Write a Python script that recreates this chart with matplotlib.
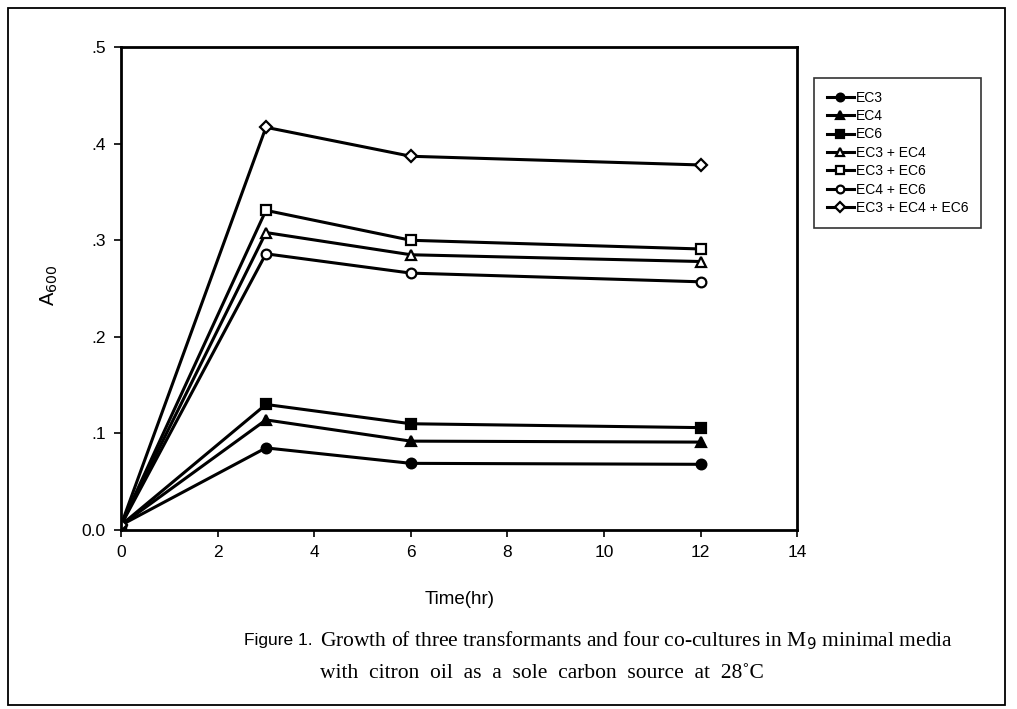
import matplotlib

matplotlib.use("Agg")
import matplotlib.pyplot as plt
from matplotlib.patches import Rectangle
from matplotlib.ticker import FixedLocator, FixedFormatter

plt.rcParams["font.family"] = ["Liberation Sans", "DejaVu Sans"]

# ── data ──
time_hr = [0, 3, 6, 12]
ec3 = [0.005, 0.085, 0.069, 0.068]
ec4 = [0.005, 0.114, 0.092, 0.091]
ec6 = [0.005, 0.130, 0.110, 0.106]
ec3_ec4 = [0.005, 0.308, 0.285, 0.278]
ec3_ec6 = [0.005, 0.331, 0.300, 0.291]
ec4_ec6 = [0.005, 0.286, 0.266, 0.257]
ec3_ec4_ec6 = [0.005, 0.417, 0.387, 0.378]

labels = ["EC3", "EC4", "EC6", "EC3 + EC4", "EC3 + EC6", "EC4 + EC6", "EC3 + EC4 + EC6"]
y_ticks = [0.0, 0.1, 0.2, 0.3, 0.4, 0.5]
y_tick_labels = ["0.0", ".1", ".2", ".3", ".4", ".5"]
x_ticks = [0, 2, 4, 6, 8, 10, 12, 14]

series = [
    (ec3, "o", "black"),
    (ec4, "^", "black"),
    (ec6, "s", "black"),
    (ec3_ec4, "^", "white"),
    (ec3_ec6, "s", "white"),
    (ec4_ec6, "o", "white"),
    (ec3_ec4_ec6, "D", "white"),
]

fig = plt.figure(figsize=(10.17, 7.09), dpi=100)
ax = fig.add_axes([0.119, 0.2525, 0.665, 0.681])

for (vals, mk, face), lab in zip(series, labels):
    ms = 6 if mk == "D" else 7
    ax.plot(time_hr, vals, color="black", linewidth=2.2, marker=mk, markersize=ms,
            markerfacecolor=face, markeredgecolor="black", markeredgewidth=1.6, label=lab)

ax.set_xlim(0, 14)
ax.set_ylim(0, 0.5)
ax.xaxis.set_major_locator(FixedLocator(x_ticks))
ax.yaxis.set_major_locator(FixedLocator(y_ticks))
ax.yaxis.set_major_formatter(FixedFormatter(y_tick_labels))
ax.tick_params(direction="out", length=5, width=1.2, labelsize=12.5, pad=6)
for sp in ax.spines.values():
    sp.set_linewidth(2)

ax.set_xlabel("Time(hr)", fontsize=13.5, labelpad=22)
fig.text(0.049, 0.598, "A$_{600}$", rotation=90, fontsize=14.5, ha="center", va="center")

leg = ax.legend(loc="upper left", bbox_to_anchor=(814 / 1017, 1 - 78 / 709),
                bbox_transform=fig.transFigure, fontsize=10, frameon=True, fancybox=False,
                edgecolor="black", handlelength=2.0, handletextpad=0.1, labelspacing=0.32,
                borderpad=0.9, borderaxespad=0, markerscale=0.8)
leg.get_frame().set_linewidth(1.2)

# caption
cap_font = ["Liberation Serif", "DejaVu Serif"]
fig.text(244 / 1017, 1 - 641 / 709, "Figure 1.", fontsize=12.5, va="center")
fig.text(320 / 1017, 1 - 641 / 709,
         "Growth of three transformants and four co-cultures in M$_9$ minimal media",
         fontsize=15.5, family=cap_font, va="center")
fig.text(320 / 1017, 1 - 673 / 709,
         "with  citron  oil  as  a  sole  carbon  source  at  28\u02daC",
         fontsize=15.5, family=cap_font, va="center")

# outer frame
fig.patches.append(Rectangle((8 / 1017, 4 / 709), 997 / 1017, 697 / 709,
                             transform=fig.transFigure, fill=False,
                             edgecolor="black", linewidth=1.3))

fig.savefig("out.png", dpi=100, facecolor="white")
